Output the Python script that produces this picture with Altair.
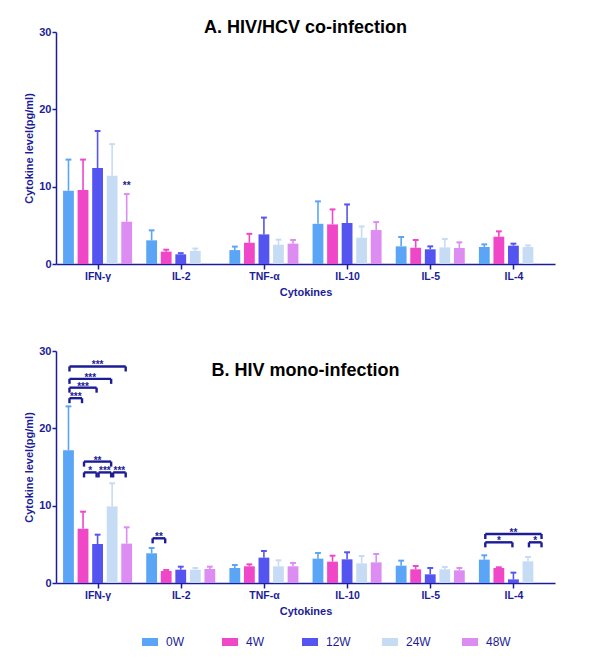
import json
import altair as alt
import pandas as pd

cytokines = ["IFN-γ", "IL-2", "TNF-α", "IL-10", "IL-5", "IL-4"]
weeks = ["0W", "4W", "12W", "24W", "48W"]
colors = ["#5AA5F5", "#F046C8", "#5454F0", "#C6DCF5", "#DD8CF2"]

# Panel A: HIV/HCV co-infection (bar = mean, err = top of error bar)
a_mean_0w = [9.47, 3.06, 1.80, 5.20, 2.28, 2.20]
a_mean_4w = [9.56, 1.60, 2.75, 5.12, 2.10, 3.53]
a_mean_12w = [12.4, 1.25, 3.83, 5.30, 1.90, 2.37]
a_mean_24w = [11.4, 1.70, 2.50, 3.40, 2.15, 2.20]
a_mean_48w = [5.47, None, 2.63, 4.39, 2.07, None]
a_err_0w = [13.5, 4.35, 2.25, 8.10, 3.49, 2.54]
a_err_4w = [13.5, 1.85, 3.90, 7.06, 3.10, 4.22]
a_err_12w = [17.2, 1.40, 6.00, 7.70, 2.28, 2.63]
a_err_24w = [15.5, 2.00, 3.15, 4.86, 3.23, 2.40]
a_err_48w = [9.04, None, 3.10, 5.42, 2.80, None]

# Panel B: HIV mono-infection
b_mean_0w = [17.16, 3.84, 1.94, 3.15, 2.24, 3.02]
b_mean_4w = [7.03, 1.55, 2.16, 2.76, 1.77, 1.94]
b_mean_12w = [5.04, 1.72, 3.28, 3.06, 1.12, 0.47]
b_mean_24w = [9.91, 1.72, 2.16, 2.54, 1.77, 2.80]
b_mean_48w = [5.09, 1.81, 2.16, 2.67, 1.64, None]
b_err_0w = [22.84, 4.53, 2.33, 3.88, 2.89, 3.58]
b_err_4w = [9.22, 1.68, 2.41, 3.53, 2.20, 2.03]
b_err_12w = [6.25, 2.11, 4.14, 3.97, 1.94, 1.34]
b_err_24w = [12.89, 1.94, 2.93, 3.49, 2.07, 3.36]
b_err_48w = [7.20, 2.11, 2.59, 3.75, 1.94, None]

# Significance annotations, panel A (cytokine index, week index, y, label)
a_sig_cyto = [0]
a_sig_week = [4]
a_sig_y = [9.9]
a_sig_label = ["**"]

# Significance brackets, panel B
b_br_cyto = [0, 0, 0, 0, 0, 0, 0, 0, 1, 5, 5, 5]
b_br_from = [0, 0, 0, 0, 1, 1, 2, 3, 0, 0, 0, 3]
b_br_to = [1, 2, 3, 4, 3, 2, 3, 4, 1, 4, 2, 4]
b_br_y = [23.9, 25.26, 26.4, 28.0, 15.7, 14.3, 14.3, 14.3, 5.78, 6.34, 5.26, 5.26]
b_br_label = ["***", "***", "***", "***", "**", "*", "***", "***", "**", "**", "*", "*"]

NAVY = "#1c1c96"
FONT = "Liberation Sans"
STEP = 0.175
HALF = 0.065
CAP = 0.035
TICK = 0.65


def pos(ci, wj):
    return ci + (wj - 2) * STEP


def bar_frame(means, errs):
    rows = []
    for j, w in enumerate(weeks):
        for i, c in enumerate(cytokines):
            m = means[j][i]
            if m is None:
                continue
            p = pos(i, j)
            rows.append(dict(week=w, cyto=c, pos=p, lo=p - HALF, hi=p + HALF,
                             clo=p - CAP, chi=p + CAP, mean=m, err=errs[j][i]))
    return pd.DataFrame(rows)


def bracket_frames(cs, fs, ts, ys, labels):
    seg, txt = [], []
    for c, f, t, y, l in zip(cs, fs, ts, ys, labels):
        x1 = pos(c, f) + 0.012
        x2 = pos(c, t) - 0.012
        seg.append(dict(x=x1, x2=x2, y=y, y2=y))
        seg.append(dict(x=x1, x2=x1, y=y, y2=y - TICK))
        seg.append(dict(x=x2, x2=x2, y=y, y2=y - TICK))
        txt.append(dict(x=(x1 + x2) / 2, y=y, label=l))
    return pd.DataFrame(seg), pd.DataFrame(txt)


label_expr = json.dumps(cytokines, ensure_ascii=False) + "[datum.value]"

x_scale = alt.Scale(domain=[-0.5, 5.5], nice=False, zero=False)
y_scale = alt.Scale(domain=[0, 30], nice=False)
color_scale = alt.Scale(domain=weeks, range=colors)

x_axis = alt.Axis(values=list(range(6)), labelExpr=label_expr, title="Cytokines",
                  grid=False, domainColor=NAVY, tickColor=NAVY, labelColor=NAVY,
                  titleColor=NAVY, labelFont=FONT, titleFont=FONT,
                  labelFontWeight="bold", titleFontWeight="bold",
                  labelFontSize=10.5, titleFontSize=11, tickSize=5,
                  domainWidth=1.5, tickWidth=1.5, labelPadding=2, titlePadding=5,
                  labelOverlap=False)
y_axis = alt.Axis(values=[0, 10, 20, 30], title="Cytokine level(pg/ml)",
                  grid=False, domainColor=NAVY, tickColor=NAVY, labelColor=NAVY,
                  titleColor=NAVY, labelFont=FONT, titleFont=FONT,
                  labelFontWeight="bold", titleFontWeight="bold",
                  labelFontSize=11, titleFontSize=11, tickSize=4,
                  domainWidth=1.5, tickWidth=1.5, labelPadding=1, titlePadding=4)

legend = alt.Legend(orient="none", legendX=86, legendY=602, direction="horizontal",
                    title=None, columns=5, columnPadding=31, gridAlign="all",
                    symbolType="M-1,-0.5L1,-0.5L1,0.5L-1,0.5Z", symbolSize=256,
                    symbolStrokeWidth=0, symbolOpacity=1, labelOffset=8,
                    labelColor=NAVY, labelFont=FONT, labelFontSize=12)


def panel(means, errs, title, title_offset, seg=None, txt=None):
    df = bar_frame(means, errs)
    base = alt.Chart(df)
    bars = base.mark_bar().encode(
        x=alt.X("lo:Q", scale=x_scale, axis=x_axis),
        x2="hi:Q",
        y=alt.Y("mean:Q", scale=y_scale, axis=y_axis),
        y2=alt.datum(0),
        color=alt.Color("week:N", scale=color_scale, legend=legend),
    )
    stems = base.mark_rule(strokeWidth=1.6).encode(
        x="pos:Q", y="mean:Q", y2="err:Q",
        color=alt.Color("week:N", scale=color_scale, legend=None),
    )
    caps = base.mark_rule(strokeWidth=2).encode(
        x="clo:Q", x2="chi:Q", y="err:Q",
        color=alt.Color("week:N", scale=color_scale, legend=None),
    )
    layers = [bars, stems, caps]
    if seg is not None and len(seg):
        layers.append(alt.Chart(seg).mark_rule(color=NAVY, strokeWidth=2.4).encode(
            x="x:Q", x2="x2:Q", y="y:Q", y2="y2:Q"))
    if txt is not None and len(txt):
        layers.append(alt.Chart(txt).mark_text(color=NAVY, font=FONT, fontSize=10,
                                               fontWeight="bold", baseline="alphabetic",
                                               dy=2).encode(
            x="x:Q", y="y:Q", text="label:N"))
    return alt.layer(*layers).properties(
        width=499, height=232,
        view=alt.ViewBackground(strokeWidth=0, strokeOpacity=0),
        title=alt.TitleParams(title, fontSize=18, font=FONT, fontWeight="bold",
                              color="#000000", anchor="middle", offset=title_offset,
                              baseline="alphabetic"),
    )


a_means = [a_mean_0w, a_mean_4w, a_mean_12w, a_mean_24w, a_mean_48w]
a_errs = [a_err_0w, a_err_4w, a_err_12w, a_err_24w, a_err_48w]
b_means = [b_mean_0w, b_mean_4w, b_mean_12w, b_mean_24w, b_mean_48w]
b_errs = [b_err_0w, b_err_4w, b_err_12w, b_err_24w, b_err_48w]

a_txt = pd.DataFrame(dict(x=[pos(c, w) for c, w in zip(a_sig_cyto, a_sig_week)],
                          y=a_sig_y, label=a_sig_label))
b_seg, b_txt = bracket_frames(b_br_cyto, b_br_from, b_br_to, b_br_y, b_br_label)

chart_a = panel(a_means, a_errs, "A. HIV/HCV co-infection", -25, None, a_txt)
chart_b = panel(b_means, b_errs, "B. HIV mono-infection", -49, b_seg, b_txt)

chart = alt.vconcat(chart_a, chart_b, spacing=87, bounds="flush").resolve_scale(
    color="shared").resolve_legend(color="shared").configure_view(
    stroke=None, strokeWidth=0, strokeOpacity=0).configure(font=FONT).properties(
    padding={"left": 15, "top": 11, "right": 5, "bottom": 5})

chart.save("out.html", embed_options={"renderer": "svg", "actions": False})
